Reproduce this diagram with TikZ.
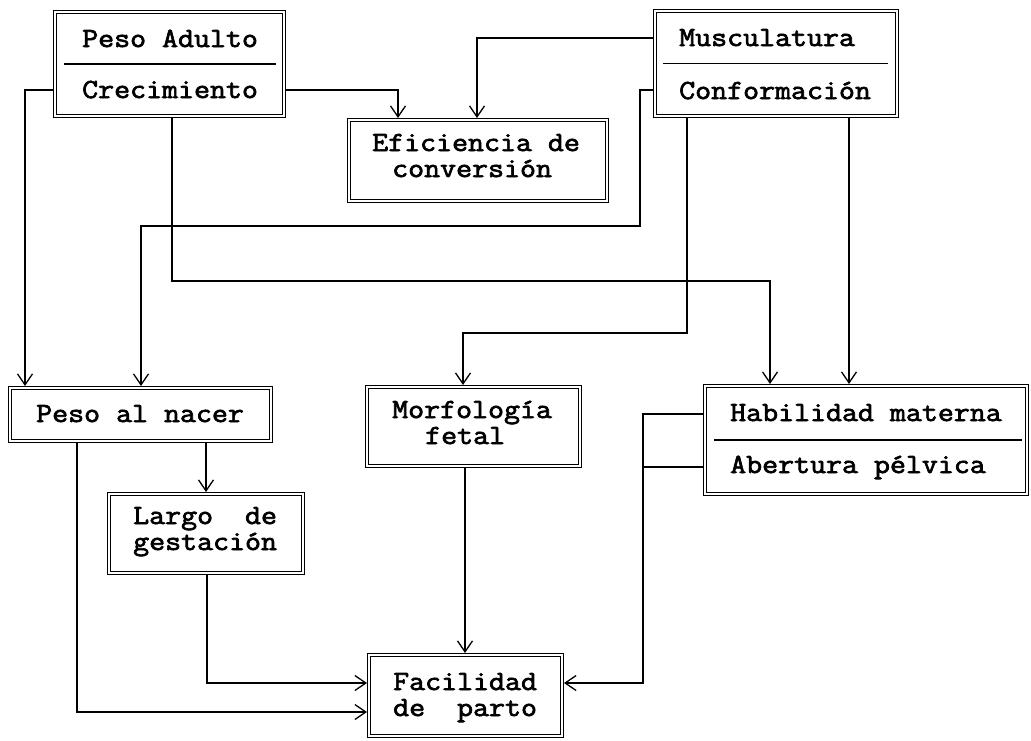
\documentclass[tikz,border=0pt]{standalone}
\usepackage{fontspec}
\newfontfamily\cour{Latin Modern Mono}[FakeBold=2.5,FakeStretch=1.12]
\usetikzlibrary{arrows.meta}
\begin{document}
\begin{tikzpicture}[x=1pt,y=-1pt,
  box/.style={draw, line width=1.1pt, double, double distance=2pt, inner sep=0pt, outer sep=2pt, minimum width=#1},
  txt/.style={anchor=base west, inner sep=0pt, align=left, font=\cour\fontsize{27.7}{26}\selectfont},
  arr/.style={line width=1.3pt, -{Straight Barb[length=11pt,width=15pt,line width=1.3pt]}},
  conn/.style={line width=1.3pt},
  divline/.style={line width=1.3pt}]
\useasboundingbox (0,0) rectangle (1031,740);
% boxes
\node[box=229, minimum height=104] (PA) at (169.5,64) {};
\node[box=258, minimum height=81] (EF) at (478,160.5) {};
\node[box=242, minimum height=105] (MU) at (776,63.5) {};
\node[box=261, minimum height=53] (PN) at (140.5,414.5) {};
\node[box=194, minimum height=79] (LG) at (206,533.5) {};
\node[box=213, minimum height=79] (MF) at (473.5,426.5) {};
\node[box=322, minimum height=108] (HM) at (866,440) {};
\node[box=193, minimum height=81] (FP) at (465.5,695.5) {};
% texts (base = baseline of last line)
\node[txt] (PA1) at (82,47) {Peso Adulto};
\node[txt] (PA2) at (82,98) {Crecimiento};
\node[txt] (MU1) at (679,46) {Musculatura};
\node[txt] (MU2) at (679,99) {Conformación};
\node[txt] (EFt) at (372,177) {Eficiencia de\\\hspace*{20pt}conversión};
\node[txt] (PN1) at (36,422) {Peso al nacer};
\node[txt] (LGt) at (133,550) {Largo\ \ de\\gestación};
\node[txt] (MFt) at (392,444) {Morfología\\\hspace*{33pt}fetal};
\node[txt] (HM1) at (730,421) {Habilidad materna};
\node[txt] (HM2) at (730,473) {Abertura pélvica};
\node[txt] (FPt) at (393,716) {Facilidad\\de\ \ parto};
% dividers
\draw[divline] ([xshift=11pt]PA.west) -- ([xshift=-10pt]PA.east);
\draw[divline] ([xshift=10pt]MU.west) -- ([xshift=-11pt]MU.east);
\draw[divline] ([xshift=11pt]HM.west) -- ([xshift=-7pt]HM.east);
% bend points
\coordinate (j1) at (25,90);
\coordinate (j2) at (398,90);
\coordinate (j3) at (172,281);
\coordinate (j4) at (770,281);
\coordinate (j5) at (477,38);
\coordinate (j6) at (640,90);
\coordinate (j7) at (640,226);
\coordinate (j8) at (141,226);
\coordinate (j9) at (687,333);
\coordinate (j10) at (463,333);
\coordinate (j11) at (849,0);
\coordinate (j12) at (77,712);
\coordinate (j13) at (206,0);
\coordinate (j14) at (207,683);
\coordinate (j15) at (465,0);
\coordinate (j16) at (643,414);
\coordinate (j17) at (643,467);
\coordinate (j18) at (643,683);
% connectors
\draw[arr] (PA.west |- j1) -- (j1) -- (PN.north -| j1);
\draw[arr] (PA.east |- j2) -- (j2) -- (EF.north -| j2);
\draw[arr] (PA.south -| j3) -- (j3) -- (j4) -- (HM.north -| j4);
\draw[arr] (MU.west |- j5) -- (j5) -- (EF.north -| j5);
\draw[arr] (MU.west |- j6) -- (j6) -- (j7) -- (j8) -- (PN.north -| j8);
\draw[arr] (MU.south -| j9) -- (j9) -- (j10) -- (MF.north -| j10);
\draw[arr] (MU.south -| j11) -- (HM.north -| j11);
\draw[arr] (PN.south -| j12) -- (j12) -- (FP.west |- j12);
\draw[arr] (PN.south -| j13) -- (LG.north -| j13);
\draw[arr] (LG.south -| j14) -- (j14) -- (FP.west |- j14);
\draw[arr] (MF.south -| j15) -- (FP.north -| j15);
\draw[conn] (HM.west |- j16) -- (j16) -- (j17);
\draw[arr] (HM.west |- j17) -- (j17) -- (j18) -- (FP.east |- j18);
\end{tikzpicture}
\end{document}
